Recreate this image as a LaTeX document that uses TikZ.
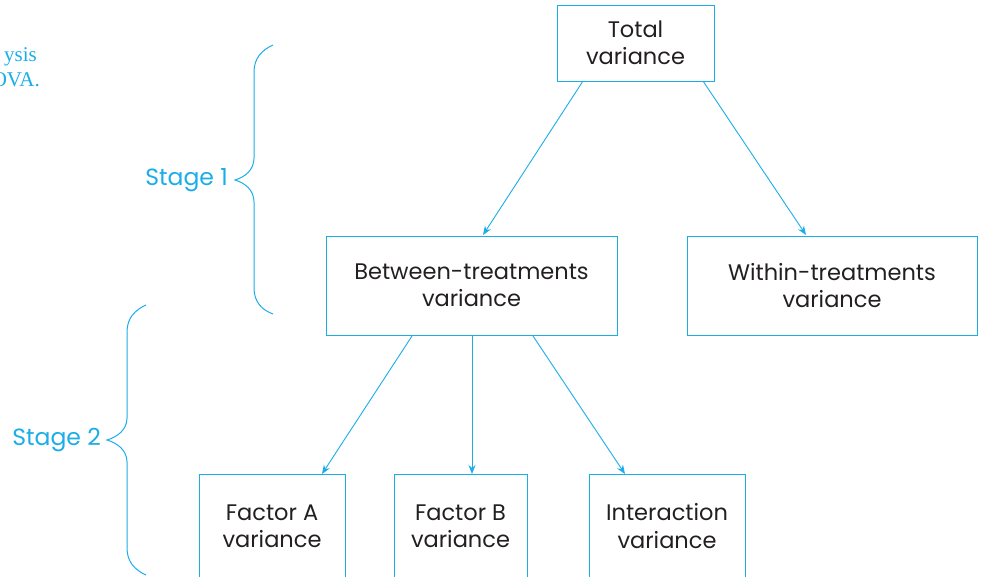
\documentclass[tikz,border=0pt]{standalone}
\usepackage{fontspec}
\setmainfont{Poppins}
\newfontfamily\capfont{Liberation Serif}
\usetikzlibrary{arrows.meta}
\definecolor{cy}{HTML}{1BADE8}
\definecolor{tx}{HTML}{231F20}
\begin{document}
\begin{tikzpicture}[x=1pt,y=-1pt,
  box/.style={draw=cy,line width=1pt,text=tx,align=center,font=\fontsize{22.5}{27.5}\selectfont,inner sep=0pt},
  arr/.style={draw=cy,line width=0.9pt,-{Stealth[length=9pt,width=7pt]}},
  brace/.style={draw=cy,line width=1pt},
  captext/.style={anchor=base east,text=cy,font=\capfont\fontsize{21}{24}\selectfont,inner sep=0pt},
  stage/.style={text=cy,font=\fontsize{23.5}{27}\selectfont,inner sep=0pt}]
\useasboundingbox (0,0) rectangle (981,576);
\begin{scope}
\clip (0,0) rectangle (981,576);
\node[captext] (cap1) at (37,61) {ysis};
\node[captext] (cap2) at (40,86) {OVA.};
\node[box,minimum width=157pt,minimum height=76pt] (tot) at (635.5,43) {Total\\variance};
\node[box,minimum width=291pt,minimum height=99pt] (bet) at (471.5,285.5) {Between-treatments\\variance};
\node[box,minimum width=290pt,minimum height=99pt] (wit) at (832,285.5) {Within-treatments\\variance};
\node[box,minimum width=146pt,minimum height=104pt] (fa) at (272,526) {Factor A\\variance};
\node[box,minimum width=133pt,minimum height=104pt] (fb) at (460.5,526) {Factor B\\variance};
\node[box,minimum width=156pt,minimum height=104pt] (int) at (667,526) {Interaction\\variance};
\coordinate (t1) at (583,81);
\coordinate (t2) at (703,81);
\coordinate (b1) at (412,336);
\coordinate (b2) at (472,336);
\coordinate (b3) at (533,336);
\draw[arr] (t1) -- (483,235);
\draw[arr] (t2) -- (806,235);
\draw[arr] (b1) -- (322,474);
\draw[arr] (b2) -- (472,474);
\draw[arr] (b3) -- (625,474);
\draw[brace] (273,45) .. controls (262,50) and (254,58) .. (254,72) -- (254,158)
  .. controls (254,170) and (245,177) .. (235,180)
  .. controls (245,183) and (254,190) .. (254,202) -- (254,288)
  .. controls (254,302) and (262,310) .. (273,314);
\draw[brace] (146,305) .. controls (135,310) and (127,318) .. (127,332) -- (127,418)
  .. controls (127,430) and (117,437) .. (107,440)
  .. controls (117,443) and (127,450) .. (127,462) -- (127,548)
  .. controls (127,562) and (135,570) .. (146,575);
\node[stage,anchor=east] (s1) at (228,180) {Stage 1};
\node[stage,anchor=east] (s2) at (101,440) {Stage 2};
\end{scope}
\end{tikzpicture}
\end{document}
